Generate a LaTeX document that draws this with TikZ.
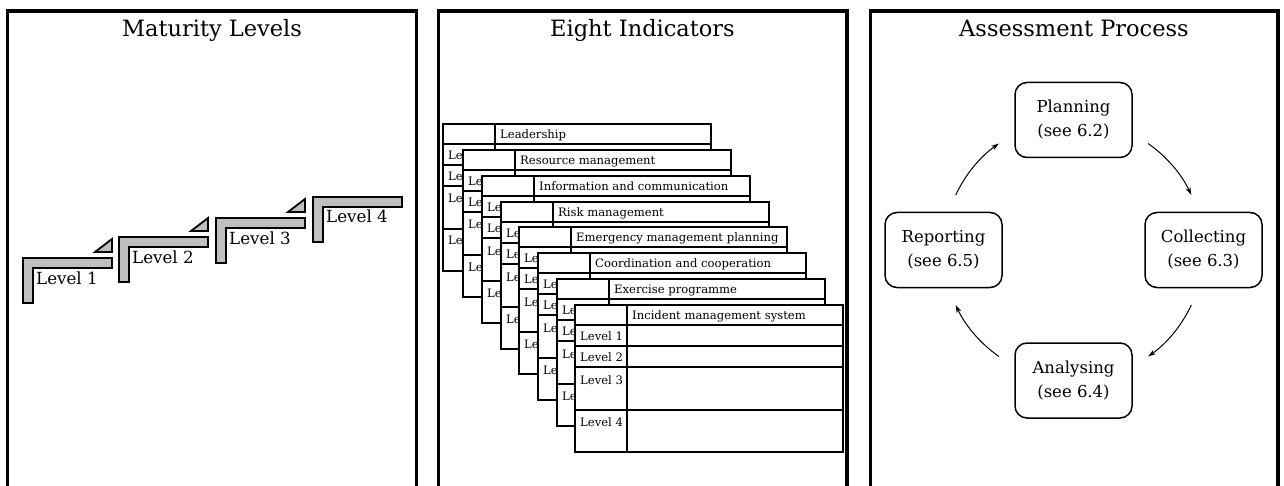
\documentclass[tikz,border=0pt]{standalone}
\usepackage{fontspec}
\setmainfont{DejaVu Serif}
\usetikzlibrary{arrows.meta,calc}
\tikzset{
  panel/.style={line width=3.5pt},
  ptitle/.style={font=\fontsize{22.5}{27}\selectfont, anchor=base, inner sep=0pt},
  stepfill/.style={draw=black, line width=1.8pt, fill=gray!50},
  steplabel/.style={font=\fontsize{16.7}{20}\selectfont, anchor=base west, inner sep=0pt},
  tabline/.style={line width=1.7pt},
  tabtext/.style={font=\fontsize{11.6}{14}\selectfont, anchor=base west, inner sep=0pt},
  proc/.style={draw, line width=1.5pt, rounded corners=12pt, minimum width=117pt, minimum height=75pt, align=center, font=\fontsize{16.5}{24}\selectfont, inner sep=0pt},
  cycarrow/.style={line width=1pt, -{Stealth[length=8pt,width=5pt]}},
  stairL/.pic={
    \filldraw[stepfill] (0,0) -- (89,0) -- (89,10) -- (10,10) -- (10,45) -- (0,45) -- cycle;
    \node[steplabel] (-lab) at (13,26) {#1};
  },
  stairtri/.pic={
    \filldraw[stepfill] (72,-6) -- (89,-6) -- (89,-19) -- cycle;
  },
  tabgrid/.pic={
    \filldraw[tabline, fill=white] (0,0) rectangle (268,147);
    \draw[tabline] (0,20) -- (268,20) (0,41) -- (268,41) (0,62) -- (268,62) (0,105) -- (268,105) (52,0) -- (52,147);
    \node[tabtext] (-h) at (57,14.5) {#1};
  },
  % a table partly hidden behind the next one: only "Le" of each row shows
  backtab/.pic={
    \pic (-g) at (0,0) {tabgrid={#1}};
    \node[tabtext] (-l1) at (5,35.5) {Le};
    \node[tabtext] (-l2) at (5,56.5) {Le};
    \node[tabtext] (-l3) at (5,79) {Le};
    \node[tabtext] (-l4) at (5,121) {Le};
  },
  fronttab/.pic={
    \pic (-g) at (0,0) {tabgrid={#1}};
    \node[tabtext] (-l1) at (5,35.5) {Level 1};
    \node[tabtext] (-l2) at (5,56.5) {Level 2};
    \node[tabtext] (-l3) at (5,79) {Level 3};
    \node[tabtext] (-l4) at (5,121) {Level 4};
  }
}
\begin{document}
\begin{tikzpicture}[x=1pt,y=-1pt]
\path[use as bounding box, clip] (0,0) rectangle (1284,486);
\fill[white] (0,0) rectangle (1284,486);
% panels
\draw[panel] (7.5,500) -- (7.5,11) -- (416.5,11) -- (416.5,500);
\draw[panel] (438.5,500) -- (438.5,11) -- (847,11) -- (847,500);
\draw[panel] (870.5,500) -- (870.5,11) -- (1278,11) -- (1278,500);
\node[ptitle] (title1) at (212,37) {Maturity Levels};
\node[ptitle] (title2) at (642.5,37) {Eight Indicators};
\node[ptitle] (title3) at (1074,37) {Assessment Process};
% stairs
\pic (s1) at (23,258) {stairL={Level 1}};
\pic (s1t) at (23,258) {stairtri};
\pic (s2) at (119,237) {stairL={Level 2}};
\pic (s2t) at (119,237) {stairtri};
\pic (s3) at (216,218) {stairL={Level 3}};
\pic (s3t) at (216,218) {stairtri};
\pic (s4) at (313,197) {stairL={Level 4}};
% tables
\pic (t1) at (443,124) {backtab={Leadership}};
\pic (t2) at (463,150) {backtab={Resource management}};
\pic (t3) at (482,176) {backtab={Information and communication}};
\pic (t4) at (501,202) {backtab={Risk management}};
\pic (t5) at (519,227) {backtab={Emergency management planning}};
\pic (t6) at (538,253) {backtab={Coordination and cooperation}};
\pic (t7) at (557,279) {backtab={Exercise programme}};
\pic (t8) at (575,305) {fronttab={Incident management system}};
% process
\coordinate (cyc) at (1073.5,250);
\node[proc] (plan) at (1073.5,120) {Planning\\(see 6.2)};
\node[proc] (coll) at (1203.5,250) {Collecting\\(see 6.3)};
\node[proc] (anal) at (1073.5,380.5) {Analysing\\(see 6.4)};
\node[proc] (repo) at (943.5,250) {Reporting\\(see 6.5)};
\coordinate (a1) at ($(cyc)+(-55:130)$);
\coordinate (a2) at ($(cyc)+(25:130)$);
\coordinate (a3) at ($(cyc)+(125:130)$);
\coordinate (a4) at ($(cyc)+(205:130)$);
\draw[cycarrow] (a1) arc[start angle=-55, end angle=-25, radius=130];
\draw[cycarrow] (a2) arc[start angle=25, end angle=55, radius=130];
\draw[cycarrow] (a3) arc[start angle=125, end angle=155, radius=130];
\draw[cycarrow] (a4) arc[start angle=205, end angle=235, radius=130];
\end{tikzpicture}
\end{document}
